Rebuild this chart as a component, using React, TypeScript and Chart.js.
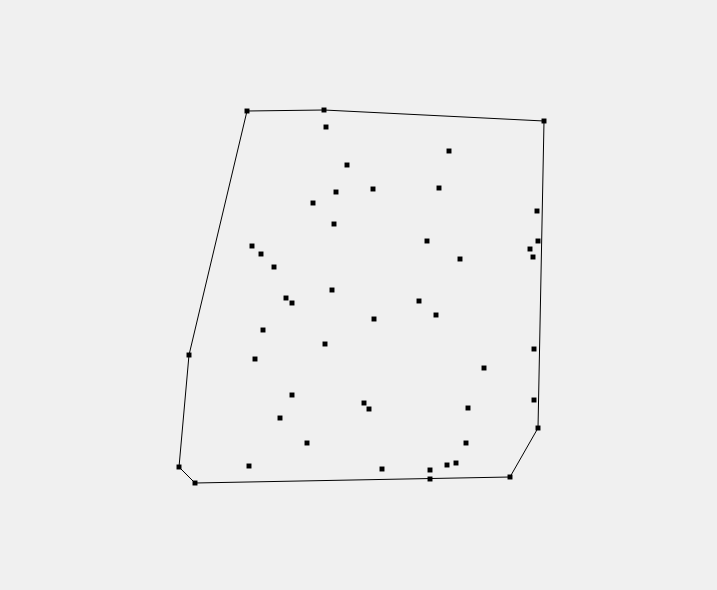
import React, { useEffect, useRef } from "react";
import { Chart, registerables } from "chart.js";

Chart.register(...registerables);

// Point coordinates (data units)
const pointsX: number[] = [
  247, 324, 544, 538, 510, 195, 179, 189,
  326, 449, 347, 373, 439, 336, 313, 537, 334, 427, 538, 530, 533, 252, 261, 460,
  274, 332, 286, 292, 419, 436, 374, 263, 325, 534, 255, 484, 292, 534, 364, 369,
  468, 280, 307, 466, 249, 382, 456, 447, 430, 430,
];
const pointsY: number[] = [
  111, 110, 121, 428, 477, 483, 467, 355,
  127, 151, 165, 189, 188, 192, 203, 211, 224, 241, 241, 249, 257, 246, 254, 259,
  267, 290, 298, 303, 301, 315, 319, 330, 344, 349, 359, 368, 395, 400, 403, 409,
  408, 418, 443, 443, 466, 469, 463, 465, 470, 479,
];
// Convex hull vertices (indices into the point arrays), in order
const hullIndices: number[] = [0, 1, 2, 3, 4, 5, 6, 7, 0];

const xMin = 0;
const xMax = 717;
const yMin = 0;
const yMax = 590;

export default function App() {
  const ref = useRef<HTMLCanvasElement | null>(null);
  useEffect(() => {
    if (!ref.current) return;
    const pts = pointsX.map((x, i) => ({ x, y: pointsY[i] }));
    const hull = hullIndices.map((i) => ({ x: pointsX[i], y: pointsY[i] }));
    const chart = new Chart(ref.current, {
      type: "scatter",
      data: {
        datasets: [
          {
            data: hull,
            showLine: true,
            borderColor: "#000000",
            borderWidth: 1,
            pointRadius: 0,
            fill: false,
          } as any,
          {
            data: pts,
            pointStyle: "rect",
            pointRadius: 3.5,
            backgroundColor: "#000000",
            borderColor: "#000000",
            borderWidth: 0,
          } as any,
        ],
      },
      options: {
        animation: false,
        responsive: false,
        layout: { padding: 0, autoPadding: false } as any,
        plugins: { legend: { display: false }, tooltip: { enabled: false } },
        scales: {
          x: { type: "linear", min: xMin, max: xMax, display: false },
          y: { type: "linear", min: yMin, max: yMax, reverse: true, display: false },
        },
      },
    });
    return () => chart.destroy();
  }, []);
  return (
    <div
      style={{
        position: "fixed",
        left: 0,
        top: 0,
        width: 717,
        height: 590,
        background: "#f0f0f0",
      }}
    >
      <canvas ref={ref} width={717} height={590} style={{ display: "block" }} />
    </div>
  );
}
